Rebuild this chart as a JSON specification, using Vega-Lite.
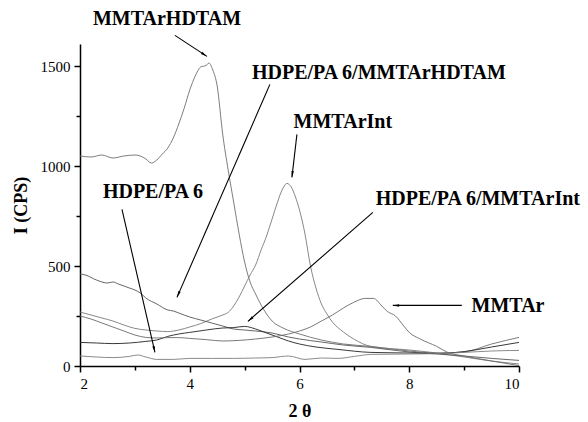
{
  "$schema": "https://vega.github.io/schema/vega-lite/v6.json",
  "width": 439,
  "height": 322,
  "autosize": {"type": "none"},
  "padding": {"left": 80, "top": 44, "right": 69, "bottom": 56},
  "background": "white",
  "config": {
    "view": {"stroke": null},
    "font": "Liberation Serif",
    "axis": {"grid": false, "domainColor": "black", "tickColor": "black", "domainWidth": 1.5, "tickWidth": 1.5, "labelColor": "black", "labelFont": "Liberation Serif", "labelFontSize": 15, "titleFont": "Liberation Serif", "titleFontSize": 18, "titleFontWeight": "bold", "titleColor": "black"}
  },
  "datasets": {
    "curves": [
      {"s": "MMTArHDTAM", "x": 2.0, "y": 1050}, {"s": "MMTArHDTAM", "x": 2.2, "y": 1045}, {"s": "MMTArHDTAM", "x": 2.4, "y": 1055}, {"s": "MMTArHDTAM", "x": 2.6, "y": 1040}, {"s": "MMTArHDTAM", "x": 2.8, "y": 1050}, {"s": "MMTArHDTAM", "x": 3.0, "y": 1055}, {"s": "MMTArHDTAM", "x": 3.1, "y": 1050}, {"s": "MMTArHDTAM", "x": 3.2, "y": 1035}, {"s": "MMTArHDTAM", "x": 3.3, "y": 1015}, {"s": "MMTArHDTAM", "x": 3.4, "y": 1030}, {"s": "MMTArHDTAM", "x": 3.5, "y": 1060}, {"s": "MMTArHDTAM", "x": 3.6, "y": 1090}, {"s": "MMTArHDTAM", "x": 3.7, "y": 1140}, {"s": "MMTArHDTAM", "x": 3.8, "y": 1210}, {"s": "MMTArHDTAM", "x": 3.9, "y": 1290}, {"s": "MMTArHDTAM", "x": 4.0, "y": 1380}, {"s": "MMTArHDTAM", "x": 4.1, "y": 1450}, {"s": "MMTArHDTAM", "x": 4.2, "y": 1495}, {"s": "MMTArHDTAM", "x": 4.3, "y": 1503}, {"s": "MMTArHDTAM", "x": 4.35, "y": 1515}, {"s": "MMTArHDTAM", "x": 4.42, "y": 1480}, {"s": "MMTArHDTAM", "x": 4.5, "y": 1400}, {"s": "MMTArHDTAM", "x": 4.6, "y": 1160}, {"s": "MMTArHDTAM", "x": 4.7, "y": 980}, {"s": "MMTArHDTAM", "x": 4.8, "y": 820}, {"s": "MMTArHDTAM", "x": 4.9, "y": 660}, {"s": "MMTArHDTAM", "x": 5.0, "y": 520}, {"s": "MMTArHDTAM", "x": 5.1, "y": 420}, {"s": "MMTArHDTAM", "x": 5.2, "y": 360}, {"s": "MMTArHDTAM", "x": 5.3, "y": 305}, {"s": "MMTArHDTAM", "x": 5.4, "y": 260}, {"s": "MMTArHDTAM", "x": 5.5, "y": 225}, {"s": "MMTArHDTAM", "x": 5.7, "y": 190}, {"s": "MMTArHDTAM", "x": 6.0, "y": 160}, {"s": "MMTArHDTAM", "x": 6.4, "y": 130}, {"s": "MMTArHDTAM", "x": 6.8, "y": 110}, {"s": "MMTArHDTAM", "x": 7.3, "y": 98}, {"s": "MMTArHDTAM", "x": 8.0, "y": 75}, {"s": "MMTArHDTAM", "x": 8.5, "y": 65}, {"s": "MMTArHDTAM", "x": 9.0, "y": 70}, {"s": "MMTArHDTAM", "x": 9.5, "y": 110}, {"s": "MMTArHDTAM", "x": 10.0, "y": 143},

      {"s": "MMTArInt", "x": 2.0, "y": 270}, {"s": "MMTArInt", "x": 2.2, "y": 255}, {"s": "MMTArInt", "x": 2.4, "y": 240}, {"s": "MMTArInt", "x": 2.6, "y": 225}, {"s": "MMTArInt", "x": 2.8, "y": 205}, {"s": "MMTArInt", "x": 3.0, "y": 188}, {"s": "MMTArInt", "x": 3.2, "y": 180}, {"s": "MMTArInt", "x": 3.4, "y": 175}, {"s": "MMTArInt", "x": 3.6, "y": 172}, {"s": "MMTArInt", "x": 3.8, "y": 180}, {"s": "MMTArInt", "x": 4.0, "y": 195}, {"s": "MMTArInt", "x": 4.2, "y": 212}, {"s": "MMTArInt", "x": 4.4, "y": 235}, {"s": "MMTArInt", "x": 4.6, "y": 255}, {"s": "MMTArInt", "x": 4.7, "y": 268}, {"s": "MMTArInt", "x": 4.8, "y": 300}, {"s": "MMTArInt", "x": 4.9, "y": 345}, {"s": "MMTArInt", "x": 5.0, "y": 400}, {"s": "MMTArInt", "x": 5.1, "y": 455}, {"s": "MMTArInt", "x": 5.2, "y": 505}, {"s": "MMTArInt", "x": 5.3, "y": 580}, {"s": "MMTArInt", "x": 5.4, "y": 650}, {"s": "MMTArInt", "x": 5.5, "y": 735}, {"s": "MMTArInt", "x": 5.6, "y": 820}, {"s": "MMTArInt", "x": 5.7, "y": 890}, {"s": "MMTArInt", "x": 5.77, "y": 913}, {"s": "MMTArInt", "x": 5.85, "y": 895}, {"s": "MMTArInt", "x": 5.92, "y": 850}, {"s": "MMTArInt", "x": 6.0, "y": 780}, {"s": "MMTArInt", "x": 6.1, "y": 660}, {"s": "MMTArInt", "x": 6.2, "y": 500}, {"s": "MMTArInt", "x": 6.3, "y": 390}, {"s": "MMTArInt", "x": 6.4, "y": 310}, {"s": "MMTArInt", "x": 6.5, "y": 260}, {"s": "MMTArInt", "x": 6.6, "y": 220}, {"s": "MMTArInt", "x": 6.8, "y": 170}, {"s": "MMTArInt", "x": 7.0, "y": 133}, {"s": "MMTArInt", "x": 7.3, "y": 98}, {"s": "MMTArInt", "x": 8.0, "y": 80}, {"s": "MMTArInt", "x": 8.5, "y": 65}, {"s": "MMTArInt", "x": 9.0, "y": 45}, {"s": "MMTArInt", "x": 9.5, "y": 25}, {"s": "MMTArInt", "x": 10.0, "y": 10},

      {"s": "HDPE/PA 6/MMTArHDTAM", "x": 2.0, "y": 460}, {"s": "HDPE/PA 6/MMTArHDTAM", "x": 2.1, "y": 455}, {"s": "HDPE/PA 6/MMTArHDTAM", "x": 2.3, "y": 430}, {"s": "HDPE/PA 6/MMTArHDTAM", "x": 2.5, "y": 415}, {"s": "HDPE/PA 6/MMTArHDTAM", "x": 2.6, "y": 420}, {"s": "HDPE/PA 6/MMTArHDTAM", "x": 2.7, "y": 410}, {"s": "HDPE/PA 6/MMTArHDTAM", "x": 2.9, "y": 390}, {"s": "HDPE/PA 6/MMTArHDTAM", "x": 3.0, "y": 380}, {"s": "HDPE/PA 6/MMTArHDTAM", "x": 3.1, "y": 365}, {"s": "HDPE/PA 6/MMTArHDTAM", "x": 3.2, "y": 340}, {"s": "HDPE/PA 6/MMTArHDTAM", "x": 3.4, "y": 310}, {"s": "HDPE/PA 6/MMTArHDTAM", "x": 3.6, "y": 280}, {"s": "HDPE/PA 6/MMTArHDTAM", "x": 3.7, "y": 275}, {"s": "HDPE/PA 6/MMTArHDTAM", "x": 3.8, "y": 265}, {"s": "HDPE/PA 6/MMTArHDTAM", "x": 4.0, "y": 245}, {"s": "HDPE/PA 6/MMTArHDTAM", "x": 4.2, "y": 230}, {"s": "HDPE/PA 6/MMTArHDTAM", "x": 4.4, "y": 215}, {"s": "HDPE/PA 6/MMTArHDTAM", "x": 4.6, "y": 200}, {"s": "HDPE/PA 6/MMTArHDTAM", "x": 4.8, "y": 185}, {"s": "HDPE/PA 6/MMTArHDTAM", "x": 5.0, "y": 180}, {"s": "HDPE/PA 6/MMTArHDTAM", "x": 5.2, "y": 175}, {"s": "HDPE/PA 6/MMTArHDTAM", "x": 5.5, "y": 165}, {"s": "HDPE/PA 6/MMTArHDTAM", "x": 5.8, "y": 145}, {"s": "HDPE/PA 6/MMTArHDTAM", "x": 6.0, "y": 135}, {"s": "HDPE/PA 6/MMTArHDTAM", "x": 6.4, "y": 120}, {"s": "HDPE/PA 6/MMTArHDTAM", "x": 6.8, "y": 105}, {"s": "HDPE/PA 6/MMTArHDTAM", "x": 7.3, "y": 93}, {"s": "HDPE/PA 6/MMTArHDTAM", "x": 8.0, "y": 70}, {"s": "HDPE/PA 6/MMTArHDTAM", "x": 8.5, "y": 60}, {"s": "HDPE/PA 6/MMTArHDTAM", "x": 9.0, "y": 50}, {"s": "HDPE/PA 6/MMTArHDTAM", "x": 9.5, "y": 38}, {"s": "HDPE/PA 6/MMTArHDTAM", "x": 10.0, "y": 28},

      {"s": "HDPE/PA 6/MMTArInt", "x": 2.0, "y": 118}, {"s": "HDPE/PA 6/MMTArInt", "x": 2.3, "y": 115}, {"s": "HDPE/PA 6/MMTArInt", "x": 2.6, "y": 112}, {"s": "HDPE/PA 6/MMTArInt", "x": 2.9, "y": 115}, {"s": "HDPE/PA 6/MMTArInt", "x": 3.2, "y": 123}, {"s": "HDPE/PA 6/MMTArInt", "x": 3.4, "y": 130}, {"s": "HDPE/PA 6/MMTArInt", "x": 3.6, "y": 148}, {"s": "HDPE/PA 6/MMTArInt", "x": 3.8, "y": 160}, {"s": "HDPE/PA 6/MMTArInt", "x": 4.0, "y": 168}, {"s": "HDPE/PA 6/MMTArInt", "x": 4.3, "y": 180}, {"s": "HDPE/PA 6/MMTArInt", "x": 4.6, "y": 190}, {"s": "HDPE/PA 6/MMTArInt", "x": 4.8, "y": 192}, {"s": "HDPE/PA 6/MMTArInt", "x": 5.0, "y": 198}, {"s": "HDPE/PA 6/MMTArInt", "x": 5.2, "y": 185}, {"s": "HDPE/PA 6/MMTArInt", "x": 5.4, "y": 165}, {"s": "HDPE/PA 6/MMTArInt", "x": 5.6, "y": 145}, {"s": "HDPE/PA 6/MMTArInt", "x": 5.8, "y": 125}, {"s": "HDPE/PA 6/MMTArInt", "x": 6.0, "y": 110}, {"s": "HDPE/PA 6/MMTArInt", "x": 6.3, "y": 95}, {"s": "HDPE/PA 6/MMTArInt", "x": 6.7, "y": 83}, {"s": "HDPE/PA 6/MMTArInt", "x": 7.3, "y": 68}, {"s": "HDPE/PA 6/MMTArInt", "x": 8.0, "y": 65}, {"s": "HDPE/PA 6/MMTArInt", "x": 8.5, "y": 63}, {"s": "HDPE/PA 6/MMTArInt", "x": 9.0, "y": 72}, {"s": "HDPE/PA 6/MMTArInt", "x": 9.5, "y": 95}, {"s": "HDPE/PA 6/MMTArInt", "x": 10.0, "y": 118},

      {"s": "MMTAr", "x": 2.0, "y": 250}, {"s": "MMTAr", "x": 2.2, "y": 235}, {"s": "MMTAr", "x": 2.4, "y": 215}, {"s": "MMTAr", "x": 2.6, "y": 195}, {"s": "MMTAr", "x": 2.8, "y": 175}, {"s": "MMTAr", "x": 3.0, "y": 155}, {"s": "MMTAr", "x": 3.2, "y": 143}, {"s": "MMTAr", "x": 3.4, "y": 140}, {"s": "MMTAr", "x": 3.6, "y": 142}, {"s": "MMTAr", "x": 3.8, "y": 142}, {"s": "MMTAr", "x": 4.0, "y": 138}, {"s": "MMTAr", "x": 4.3, "y": 132}, {"s": "MMTAr", "x": 4.6, "y": 125}, {"s": "MMTAr", "x": 4.9, "y": 128}, {"s": "MMTAr", "x": 5.2, "y": 135}, {"s": "MMTAr", "x": 5.5, "y": 145}, {"s": "MMTAr", "x": 5.8, "y": 160}, {"s": "MMTAr", "x": 6.0, "y": 175}, {"s": "MMTAr", "x": 6.2, "y": 195}, {"s": "MMTAr", "x": 6.4, "y": 225}, {"s": "MMTAr", "x": 6.6, "y": 255}, {"s": "MMTAr", "x": 6.8, "y": 290}, {"s": "MMTAr", "x": 7.0, "y": 320}, {"s": "MMTAr", "x": 7.2, "y": 338}, {"s": "MMTAr", "x": 7.35, "y": 338}, {"s": "MMTAr", "x": 7.5, "y": 300}, {"s": "MMTAr", "x": 7.6, "y": 273}, {"s": "MMTAr", "x": 7.75, "y": 250}, {"s": "MMTAr", "x": 7.9, "y": 200}, {"s": "MMTAr", "x": 8.0, "y": 168}, {"s": "MMTAr", "x": 8.2, "y": 135}, {"s": "MMTAr", "x": 8.5, "y": 98}, {"s": "MMTAr", "x": 8.7, "y": 68}, {"s": "MMTAr", "x": 9.0, "y": 50}, {"s": "MMTAr", "x": 9.5, "y": 25}, {"s": "MMTAr", "x": 10.0, "y": 2},

      {"s": "HDPE/PA 6", "x": 2.0, "y": 50}, {"s": "HDPE/PA 6", "x": 2.3, "y": 45}, {"s": "HDPE/PA 6", "x": 2.6, "y": 42}, {"s": "HDPE/PA 6", "x": 2.9, "y": 48}, {"s": "HDPE/PA 6", "x": 3.05, "y": 55}, {"s": "HDPE/PA 6", "x": 3.2, "y": 45}, {"s": "HDPE/PA 6", "x": 3.4, "y": 33}, {"s": "HDPE/PA 6", "x": 3.7, "y": 33}, {"s": "HDPE/PA 6", "x": 4.0, "y": 38}, {"s": "HDPE/PA 6", "x": 4.4, "y": 38}, {"s": "HDPE/PA 6", "x": 4.8, "y": 38}, {"s": "HDPE/PA 6", "x": 5.2, "y": 40}, {"s": "HDPE/PA 6", "x": 5.5, "y": 42}, {"s": "HDPE/PA 6", "x": 5.8, "y": 50}, {"s": "HDPE/PA 6", "x": 6.1, "y": 33}, {"s": "HDPE/PA 6", "x": 6.4, "y": 40}, {"s": "HDPE/PA 6", "x": 6.7, "y": 38}, {"s": "HDPE/PA 6", "x": 7.0, "y": 48}, {"s": "HDPE/PA 6", "x": 7.3, "y": 58}, {"s": "HDPE/PA 6", "x": 8.0, "y": 60}, {"s": "HDPE/PA 6", "x": 8.5, "y": 62}, {"s": "HDPE/PA 6", "x": 9.0, "y": 68}, {"s": "HDPE/PA 6", "x": 9.5, "y": 75}, {"s": "HDPE/PA 6", "x": 10.0, "y": 78}
    ],
    "notes": [
      {"label": "MMTArHDTAM", "tx": 3.585, "ty": 1733, "x1": 3.73, "y1": 1653, "x2": 4.313, "y2": 1548},
      {"label": "HDPE/PA 6/MMTArHDTAM", "tx": 7.446, "ty": 1467, "x1": 5.461, "y1": 1408, "x2": 3.767, "y2": 343},
      {"label": "MMTArInt", "tx": 6.79, "ty": 1218, "x1": 5.953, "y1": 1158, "x2": 5.862, "y2": 943},
      {"label": "HDPE/PA 6/MMTArInt", "tx": 9.25, "ty": 833, "x1": 7.337, "y1": 768, "x2": 5.06, "y2": 223},
      {"label": "HDPE/PA 6", "tx": 3.33, "ty": 868, "x1": 2.765, "y1": 783, "x2": 3.366, "y2": 68},
      {"label": "MMTAr", "tx": 9.8, "ty": 298, "x1": 8.958, "y1": 303, "x2": 7.70, "y2": 303}
    ]
  },
  "layer": [
    {
      "data": {"name": "curves"},
      "mark": {"type": "line", "strokeWidth": 0.9, "interpolate": "monotone"},
      "encoding": {
        "x": {"field": "x", "type": "quantitative", "scale": {"domain": [2, 10], "nice": false, "zero": false},
              "axis": {"title": "2 θ", "format": "d", "values": [2, 3, 4, 5, 6, 7, 8, 9, 10], "labelExpr": "datum.value % 2 === 0 ? datum.label : ''", "tickSize": {"condition": {"test": "datum.value % 2 === 0", "value": 6}, "value": 4}, "labelPadding": 4, "titlePadding": 11}},
        "y": {"field": "y", "type": "quantitative", "scale": {"domain": [0, 1610], "nice": false},
              "axis": {"title": "I (CPS)", "format": "d", "values": [0, 250, 500, 750, 1000, 1250, 1500], "labelExpr": "datum.value % 500 === 0 ? datum.label : ''", "tickSize": {"condition": {"test": "datum.value % 500 === 0", "value": 6}, "value": 4}, "labelPadding": 4, "titlePadding": 10}},
        "color": {"field": "s", "type": "nominal", "legend": null,
                  "scale": {"domain": ["MMTArHDTAM", "MMTArInt", "HDPE/PA 6/MMTArHDTAM", "HDPE/PA 6/MMTArInt", "MMTAr", "HDPE/PA 6"],
                            "range": ["#6e6e6e", "#7a7a7a", "#555555", "#222222", "#6a6a6a", "#7d7d7d"]}}
      }
    },
    {
      "data": {"name": "notes"},
      "mark": {"type": "rule", "color": "black", "strokeWidth": 1.1},
      "encoding": {
        "x": {"field": "x1", "type": "quantitative"},
        "y": {"field": "y1", "type": "quantitative"},
        "x2": {"field": "x2"},
        "y2": {"field": "y2"}
      }
    },
    {
      "data": {"name": "notes"},
      "transform": [{"calculate": "atan2((datum.x2 - datum.x1) * 54.875, (datum.y2 - datum.y1) * 0.2) * 180 / PI", "as": "ang"}],
      "mark": {"type": "point", "shape": "M0,0L-0.4,2L0.4,2Z", "filled": true, "color": "black", "size": 40, "opacity": 1, "strokeWidth": 0},
      "encoding": {
        "x": {"field": "x2", "type": "quantitative"},
        "y": {"field": "y2", "type": "quantitative"},
        "angle": {"field": "ang", "type": "quantitative", "scale": null}
      }
    },
    {
      "data": {"name": "notes"},
      "mark": {"type": "text", "font": "Liberation Serif", "fontWeight": "bold", "fontSize": 20, "color": "black", "align": "center", "baseline": "middle"},
      "encoding": {
        "x": {"field": "tx", "type": "quantitative"},
        "y": {"field": "ty", "type": "quantitative"},
        "text": {"field": "label"}
      }
    }
  ]
}
